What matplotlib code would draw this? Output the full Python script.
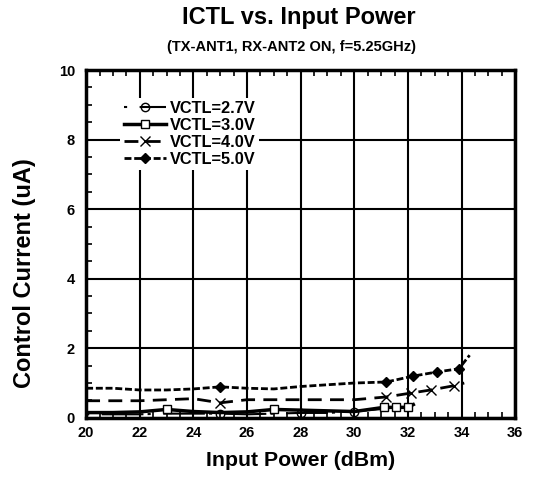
import matplotlib
matplotlib.use("Agg")
import matplotlib.pyplot as plt
from matplotlib.ticker import MultipleLocator

plt.rcParams["font.family"] = ["Liberation Sans", "DejaVu Sans"]
plt.rcParams["font.weight"] = "bold"

# data
v27_x = [20, 21, 22, 23, 24, 25, 26, 27, 28, 29, 30, 31, 32]
v27_y = [0.1, 0.1, 0.1, 0.12, 0.12, 0.12, 0.1, 0.12, 0.14, 0.14, 0.18, 0.25, 0.32]
v27_marks = [5, 8, 10]

v30_x = [20, 21, 22, 23, 24, 25, 26, 27, 28, 29, 30, 31.1, 31.55, 32.0, 32.2]
v30_y = [0.15, 0.15, 0.17, 0.24, 0.18, 0.15, 0.17, 0.24, 0.22, 0.2, 0.18, 0.3, 0.3, 0.3, 0.38]
v30_marks = [3, 7, 11, 12, 13]

v40_x = [20, 22, 24, 25, 26, 28, 30, 31.2, 32.1, 32.85, 33.7, 34.1]
v40_y = [0.49, 0.49, 0.55, 0.43, 0.52, 0.52, 0.52, 0.6, 0.71, 0.8, 0.92, 1.0]
v40_marks = [3, 7, 8, 9, 10]

v50_x = [20, 21, 22, 23, 24, 25, 26, 27, 28, 29, 30, 31.2, 32.2, 33.1, 33.9, 34.3]
v50_y = [0.85, 0.85, 0.8, 0.8, 0.83, 0.89, 0.85, 0.83, 0.9, 0.95, 1.0, 1.03, 1.2, 1.32, 1.41, 1.8]
v50_marks = [5, 11, 12, 13, 14]

labels = ["VCTL=2.7V", "VCTL=3.0V", "VCTL=4.0V", "VCTL=5.0V"]

fig = plt.figure(figsize=(5.35, 4.83), dpi=100)
ax = fig.add_axes([0.161, 0.135, 0.802, 0.72])

ax.plot(v27_x, v27_y, color="black", lw=1.5, dashes=(1.5, 6, 20, 2),
        marker="o", ms=6, mfc="none", mew=1, markevery=v27_marks, label=labels[0])
ax.plot(v30_x, v30_y, color="black", lw=2.5, linestyle="-",
        marker="s", ms=6, mfc="white", mew=1, markevery=v30_marks, label=labels[1])
ax.plot(v40_x, v40_y, color="black", lw=2, dashes=(5, 3),
        marker="x", ms=7, mew=1, markevery=v40_marks, label=labels[2])
ax.plot(v50_x, v50_y, color="black", lw=2, dashes=(2.5, 1),
        marker="D", ms=5, mew=1, markevery=v50_marks, label=labels[3])

ax.set_xlim(20, 36)
ax.set_ylim(0, 10)
ax.xaxis.set_major_locator(MultipleLocator(2))
ax.xaxis.set_minor_locator(MultipleLocator(0.5))
ax.yaxis.set_major_locator(MultipleLocator(2))
ax.yaxis.set_minor_locator(MultipleLocator(0.5))
ax.grid(which="major", color="black", lw=1.5)
for s in ax.spines.values():
    s.set_linewidth(2.5)
ax.tick_params(which="both", direction="in", top=True, right=False,
               labelsize=10.5, width=1.2)
ax.tick_params(which="major", length=0)
ax.tick_params(axis="y", which="major", pad=8)
ax.tick_params(axis="x", which="major", pad=6)
ax.tick_params(which="minor", length=4)
for t in ax.get_xticklabels() + ax.get_yticklabels():
    t.set_fontweight("bold")

ax.set_xlabel("Input Power (dBm)", fontsize=15.3, fontweight="bold", labelpad=8)
fig.text(0.045, 0.434, "Control Current (uA)", rotation=90, ha="center", va="center",
         fontsize=17, fontweight="bold")

fig.text(0.558, 0.964, "ICTL vs. Input Power", ha="center", va="center",
         fontsize=17, fontweight="bold")
fig.text(0.545, 0.903, "(TX-ANT1, RX-ANT2 ON, f=5.25GHz)", ha="center", va="center",
         fontsize=10.5, fontweight="bold")

leg = ax.legend(loc="upper left", bbox_to_anchor=(0.08, 0.92), frameon=True,
                facecolor="white", edgecolor="none", framealpha=1, fancybox=False,
                fontsize=11.8, handlelength=2.6, handletextpad=0.2,
                labelspacing=0.12, borderaxespad=0, borderpad=0.2)
for t in leg.get_texts():
    t.set_fontweight("bold")

fig.savefig("out.png", dpi=100)
